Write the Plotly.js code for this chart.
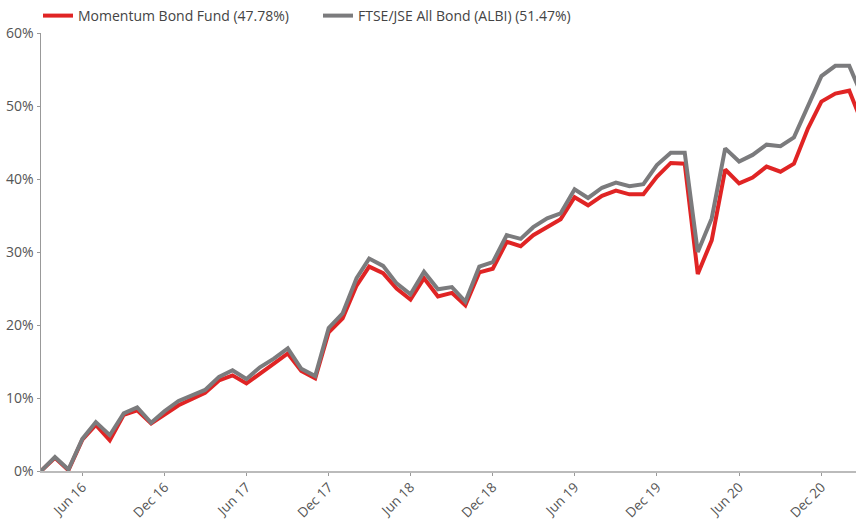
<!DOCTYPE html>
<html>
<head>
<meta charset="utf-8">
<script src="https://cdn.plot.ly/plotly-3.0.1.min.js"></script>
<style>html,body{margin:0;padding:0;background:#fff;}#chart{width:856px;height:519px;}</style>
</head>
<body>
<div id="chart"></div>
<script>
const months = [
  '2016-03-01','2016-04-01','2016-05-01','2016-06-01','2016-07-01','2016-08-01','2016-09-01','2016-10-01','2016-11-01','2016-12-01',
  '2017-01-01','2017-02-01','2017-03-01','2017-04-01','2017-05-01','2017-06-01','2017-07-01','2017-08-01','2017-09-01','2017-10-01','2017-11-01','2017-12-01',
  '2018-01-01','2018-02-01','2018-03-01','2018-04-01','2018-05-01','2018-06-01','2018-07-01','2018-08-01','2018-09-01','2018-10-01','2018-11-01','2018-12-01',
  '2019-01-01','2019-02-01','2019-03-01','2019-04-01','2019-05-01','2019-06-01','2019-07-01','2019-08-01','2019-09-01','2019-10-01','2019-11-01','2019-12-01',
  '2020-01-01','2020-02-01','2020-03-01','2020-04-01','2020-05-01','2020-06-01','2020-07-01','2020-08-01','2020-09-01','2020-10-01','2020-11-01','2020-12-01',
  '2021-01-01','2021-02-01','2021-03-01'
];
const momentumBondFund = [
  0, 1.8, 0.1, 4.3, 6.3, 4.2, 7.7, 8.3, 6.5, 7.8,
  9.0, 9.9, 10.7, 12.4, 13.1, 12.0, 13.4, 14.7, 16.1, 13.7, 12.7, 19.0,
  20.9, 25.4, 28.0, 27.1, 25.0, 23.5, 26.4, 23.9, 24.4, 22.7, 27.2, 27.7,
  31.4, 30.8, 32.3, 33.4, 34.5, 37.5, 36.4, 37.7, 38.4, 37.9, 37.9, 40.3,
  42.2, 42.1, 27.0, 31.6, 41.3, 39.4, 40.2, 41.7, 41.0, 42.1, 46.9, 50.6,
  51.7, 52.1, 47.78
];
const albi = [
  0, 1.9, 0.2, 4.4, 6.7, 4.9, 7.9, 8.7, 6.6, 8.2,
  9.6, 10.4, 11.1, 12.9, 13.8, 12.6, 14.2, 15.4, 16.8, 14.0, 13.0, 19.6,
  21.6, 26.4, 29.1, 28.1, 25.7, 24.2, 27.3, 24.9, 25.2, 23.2, 28.0, 28.6,
  32.3, 31.8, 33.4, 34.6, 35.3, 38.6, 37.4, 38.8, 39.5, 39.0, 39.3, 41.9,
  43.6, 43.6, 30.0, 34.6, 44.2, 42.4, 43.3, 44.7, 44.5, 45.7, 50.1, 54.1,
  55.5, 55.5, 51.47
];
const seriesNames = ['Momentum Bond Fund (47.78%)', 'FTSE/JSE All Bond (ALBI) (51.47%)'];
const xTickVals = ['2016-06-01','2016-12-01','2017-06-01','2017-12-01','2018-06-01','2018-12-01','2019-06-01','2019-12-01','2020-06-01','2020-12-01'];
const xTickText = ['Jun 16','Dec 16','Jun 17','Dec 17','Jun 18','Dec 18','Jun 19','Dec 19','Jun 20','Dec 20'];
const yTickVals = [0, 10, 20, 30, 40, 50, 60];
const yTickText = ['0%', '10%', '20%', '30%', '40%', '50%', '60%'];

const traces = [
  {x: months, y: momentumBondFund, name: seriesNames[0], type: 'scatter', mode: 'lines',
   line: {color: '#e02424', width: 4}},
  {x: months, y: albi, name: seriesNames[1], type: 'scatter', mode: 'lines',
   line: {color: '#7b7b7d', width: 4}}
];

const layout = {
  width: 856, height: 519,
  margin: {l: 41, r: 0, t: 33, b: 48, pad: 0, autoexpand: false},
  paper_bgcolor: '#ffffff', plot_bgcolor: '#ffffff',
  font: {family: '"Open Sans", sans-serif', size: 14, color: '#555'},
  showlegend: true,
  legend: {orientation: 'h', x: 0.0444, xref: 'container', xanchor: 'left', y: 1, yref: 'container', yanchor: 'top',
           font: {size: 14, color: '#444'}, itemwidth: 30, entrywidth: 235, entrywidthmode: 'pixels',
           bgcolor: 'rgba(0,0,0,0)', tracegroupgap: 0},
  xaxis: {type: 'date', range: ['2016-03-01', '2021-02-16'], tickmode: 'array',
          tickvals: xTickVals, ticktext: xTickText, tickangle: -45,
          showgrid: false, zeroline: false, showline: true, linecolor: '#bbbbbb', linewidth: 2,
          ticks: 'outside', ticklen: 3, tickcolor: '#999', tickwidth: 1, ticklabelstandoff: -2,
          tickfont: {size: 13.5, color: '#555'}},
  yaxis: {range: [0, 60], tickmode: 'array', tickvals: yTickVals, ticktext: yTickText,
          showgrid: false, zeroline: false, showline: true, linecolor: '#999999', linewidth: 1.5,
          ticks: 'outside', ticklen: 3, tickcolor: '#999', tickwidth: 1,
          tickfont: {size: 14, color: '#555'}}
};

Plotly.newPlot('chart', traces, layout, {displayModeBar: false, staticPlot: true});
</script>
</body>
</html>
